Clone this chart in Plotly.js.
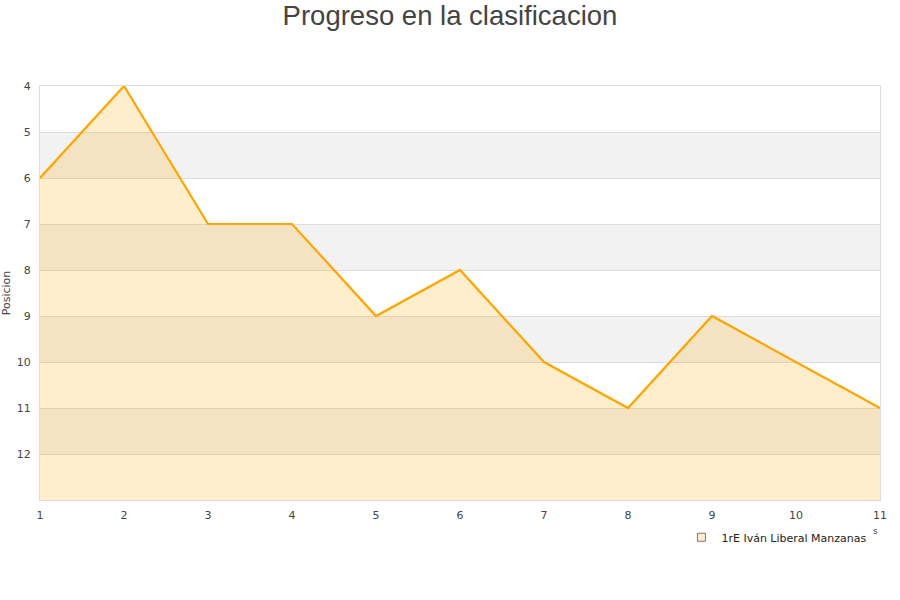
<!DOCTYPE html>
<html>
<head>
<meta charset="utf-8">
<script src="https://cdn.plot.ly/plotly-3.0.1.min.js"></script>
<style>html,body{margin:0;padding:0;background:#fff;}#chart{width:900px;height:600px;}</style>
</head>
<body>
<div id="chart"></div>
<script>
const jornadas = [1, 2, 3, 4, 5, 6, 7, 8, 9, 10, 11];
const posiciones = [6, 4, 7, 7, 9, 8, 10, 11, 9, 10, 11];
const peorPosicion = 13;
const yTicks = [4, 5, 6, 7, 8, 9, 10, 11, 12];
const bandas = [[5, 6], [7, 8], [9, 10], [11, 12]];
const nombre = "1rE Iván Liberal Manzanas";

const baseline = jornadas.map(() => peorPosicion);

const traces = [
  {x: jornadas, y: baseline, mode: 'lines', line: {width: 0, color: 'rgba(0,0,0,0)'}, showlegend: false, hoverinfo: 'skip'},
  {x: jornadas, y: posiciones, mode: 'lines', fill: 'tonexty', fillcolor: 'rgba(255,165,0,0.2)',
   line: {color: '#FFA500', width: 2.2}, showlegend: false, name: nombre},
  {x: [null], y: [null], mode: 'markers', name: nombre,
   marker: {symbol: 'square', size: 8, color: '#FFEDCC', line: {color: '#777', width: 1}}, showlegend: true}
];

const shapes = bandas.map(b => ({type: 'rect', xref: 'paper', x0: 0, x1: 1, yref: 'y', y0: b[0], y1: b[1],
  fillcolor: '#F2F2F2', line: {width: 0}, layer: 'below'}));

const layout = {
  width: 900, height: 600,
  margin: {l: 40, r: 20, t: 86, b: 100},
  paper_bgcolor: '#fff', plot_bgcolor: '#fff',
  font: {family: 'DejaVu Sans, sans-serif', size: 11, color: '#444'},
  title: {text: 'Progreso en la clasificacion', x: 0.5, xref: 'container', y: 0.975, yanchor: 'middle',
    font: {family: 'Liberation Sans, Arial, sans-serif', size: 27.5, color: '#444'}},
  xaxis: {range: [1, 11], tickvals: jornadas, showgrid: false, zeroline: false,
    showline: true, mirror: true, linecolor: '#DDDDDD', linewidth: 1, ticks: '',
    ticklabelstandoff: 5,
    tickfont: {size: 11, color: '#444'}},
  yaxis: {range: [peorPosicion, 4], tickvals: yTicks, showgrid: true, gridcolor: '#DDDDDD', zeroline: false,
    showline: true, mirror: true, linecolor: '#DDDDDD', linewidth: 1, ticks: '',
    ticklabelstandoff: 6,
    tickfont: {size: 11, color: '#444'},
    title: {text: 'Posicion', font: {size: 11, color: '#444'}, standoff: 6}},
  shapes: shapes,
  showlegend: true,
  legend: {x: 0.991, xanchor: 'right', y: -0.09, yanchor: 'middle', bgcolor: 'rgba(0,0,0,0)',
    itemwidth: 30, font: {size: 11, color: '#222'}},
  annotations: [{text: 's', xref: 'paper', yref: 'paper', x: 0.9995, y: -0.075, yanchor: 'middle', showarrow: false,
    font: {size: 9, color: '#444'}}]
};

Plotly.newPlot('chart', traces, layout, {displayModeBar: false, staticPlot: true});
</script>
</body>
</html>
